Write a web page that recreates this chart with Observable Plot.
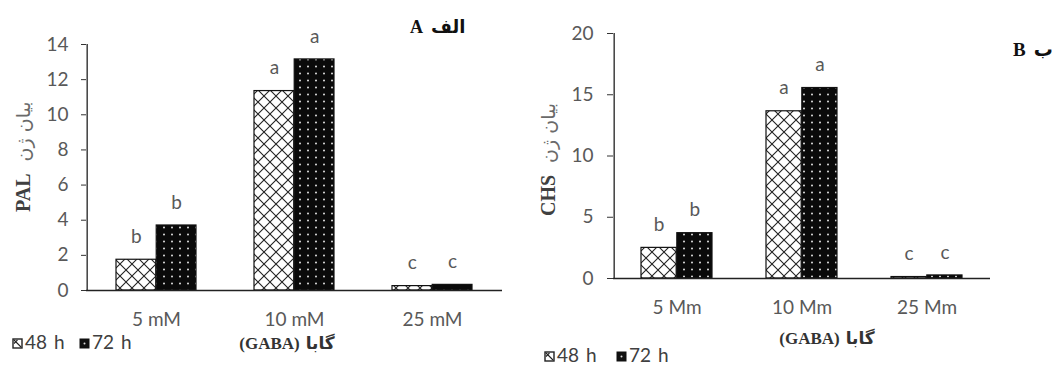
<!DOCTYPE html>
<html><head><meta charset="utf-8">
<script src="https://cdn.jsdelivr.net/npm/d3@7"></script>
<script src="https://cdn.jsdelivr.net/npm/@observablehq/plot@0.6"></script>
<style>
body{margin:0;background:#fff}
#wrap{position:relative;width:1054px;height:367px;overflow:hidden;background:#fff}
#wrap svg{position:absolute;top:0}
g[aria-label="y-axis tick label"] text, g[aria-label="x-axis tick label"] text {fill:#595959}
</style></head><body><div id="wrap"></div><script>
// ---- data ----
const categoriesA = ["5 mM", "10 mM", "25 mM"];
const values48A = [1.75, 11.35, 0.25];
const values72A = [3.7, 13.15, 0.32];
const letters48A = ["b", "a", "c"];
const letters72A = ["b", "a", "c"];
const yTicksA = [0, 2, 4, 6, 8, 10, 12, 14];

const categoriesB = ["5 Mm", "10 Mm", "25 Mm"];
const values48B = [2.5, 13.65, 0.12];
const values72B = [3.7, 15.55, 0.25];
const letters48B = ["b", "a", "c"];
const letters72B = ["b", "a", "c"];
const yTicksB = [0, 5, 10, 15, 20];

const seriesNames = ["48 h", "72 h"];

const wrap = document.getElementById("wrap");

function panel(o) {
  const d48 = o.cats.map((c, i) => ({c, v: o.v48[i], l: o.l48[i]}));
  const d72 = o.cats.map((c, i) => ({c, v: o.v72[i], l: o.l72[i]}));
  const step = (o.width - o.ml - o.mr) / o.cats.length;
  const bw = step * (1 - o.pi);
  const svg = Plot.plot({
    width: o.width, height: 367,
    marginLeft: o.ml, marginRight: o.mr, marginTop: o.mt, marginBottom: o.mb,
    style: {fontFamily: "Lato, 'Open Sans', sans-serif", fontSize: "19px", background: "transparent", overflow: "visible"},
    x: {domain: o.cats, paddingInner: o.pi, paddingOuter: o.pi / 2, label: null},
    y: {domain: [0, o.yTicks[o.yTicks.length - 1]], label: null},
    marks: [
      Plot.axisY({ticks: o.yTicks, tickSize: o.tickSize, tickPadding: o.tickPadding, fontSize: 19, label: null, stroke: "#333"}),
      Plot.axisX({tickSize: 0, tickPadding: o.xPad, fontSize: 19, label: null}),
      Plot.barY(d48, {x: "c", y: "v", fill: `url(#hatch${o.id})`, stroke: "#111", strokeWidth: 1.2, insetRight: bw / 2}),
      Plot.barY(d72, {x: "c", y: "v", fill: `url(#dots${o.id})`, stroke: "#111", strokeWidth: 1.2, insetLeft: bw / 2}),
      Plot.ruleY([0], {stroke: "#222", strokeWidth: 1.3}),
      Plot.ruleX([o.cats[0]], {x: d => d, dx: -step / 2, y1: 0, y2: o.yTicks[o.yTicks.length - 1], stroke: "#222", strokeWidth: 1.3}),
      Plot.text(d48, {x: "c", y: "v", text: "l", dx: -bw / 4, dy: -23, fill: "#595959", fontSize: 19}),
      Plot.text(d72, {x: "c", y: "v", text: "l", dx: bw / 4, dy: -23, fill: "#595959", fontSize: 19})
    ]
  });
  svg.style.left = o.left + "px";
  const defs = d3.select(svg).insert("defs", ":first-child");
  const h = defs.append("pattern").attr("id", "hatch" + o.id).attr("patternUnits", "userSpaceOnUse")
    .attr("width", o.hatch).attr("height", o.hatch);
  h.append("rect").attr("width", o.hatch).attr("height", o.hatch).attr("fill", "white");
  h.append("path").attr("d", `M0,0L${o.hatch},${o.hatch}M${o.hatch},0L0,${o.hatch}`).attr("stroke", "#222").attr("stroke-width", 1.1);
  const p = defs.append("pattern").attr("id", "dots" + o.id).attr("patternUnits", "userSpaceOnUse")
    .attr("width", 8).attr("height", 7);
  p.append("rect").attr("width", 8).attr("height", 7).attr("fill", "#0a0a0a");
  p.append("circle").attr("cx", 4).attr("cy", 3.5).attr("r", 0.95).attr("fill", "#e8e8e8");
  wrap.appendChild(svg);
}

panel({id: "A", cats: categoriesA, v48: values48A, v72: values72A, l48: letters48A, l72: letters72A, yTicks: yTicksA,
  left: 0, width: 520, ml: 86, mr: 18, mt: 44, mb: 77, pi: 0.42, tickSize: 5, tickPadding: 13, xPad: 22, hatch: 12});
panel({id: "B", cats: categoriesB, v48: values48B, v72: values72B, l48: letters48B, l72: letters72B, yTicks: yTicksB,
  left: 520, width: 534, ml: 93, mr: 64, mt: 33, mb: 89, pi: 0.43, tickSize: 6, tickPadding: 14, xPad: 22, hatch: 12});

// ---- overlay text: titles, axis titles, legends ----
const ov = d3.select(wrap).append("svg").attr("width", 1054).attr("height", 367).style("left", "0px");
const serif = "'Liberation Serif', 'DejaVu Serif', serif";
const fa = "'DejaVu Sans', 'Noto Sans', sans-serif";

function yTitle(x, yBottom, latin, persian) {
  const g = ov.append("g").attr("transform", `translate(${x},${yBottom}) rotate(-90)`);
  const t = g.append("text").attr("font-family", serif).attr("font-weight", "bold").attr("font-size", 20)
    .attr("fill", "#404040").text(latin);
  const w = t.node().getComputedTextLength();
  g.append("text").attr("x", w + 12).attr("font-family", fa).attr("font-size", 19).attr("fill", "#6a6a6a").text(persian);
}
yTitle(30, 212, "PAL", "بیان ژن");
yTitle(555, 216, "CHS", "بیان ژن");

function title(x, y, latin, persian, size) {
  const t = ov.append("text").attr("x", x).attr("y", y).attr("font-family", serif).attr("font-weight", "bold")
    .attr("font-size", size).attr("fill", "#111").text(latin);
  const w = t.node().getComputedTextLength();
  ov.append("text").attr("x", x + w + 8).attr("y", y).attr("font-family", fa).attr("font-weight", "bold")
    .attr("font-size", size).attr("fill", "#111").text(persian);
}
title(410, 33, "A", "الف", 18);
title(1013, 56, "B", "ب", 19);

function xTitle(cx, y) {
  const g = ov.append("g");
  const t = g.append("text").attr("y", y).attr("font-family", serif).attr("font-weight", "bold").attr("font-size", 17)
    .attr("fill", "#333").text("(GABA)");
  const w = t.node().getComputedTextLength();
  const t2 = g.append("text").attr("x", w + 6).attr("y", y).attr("font-family", fa).attr("font-weight", "bold")
    .attr("font-size", 17).attr("fill", "#333").text("گابا");
  const w2 = t2.node().getComputedTextLength();
  g.attr("transform", `translate(${cx - (w + 6 + w2) / 2},0)`);
}
xTitle(287, 349);
xTitle(827, 344);

function legend(xs, y) {
  const s = 9;
  seriesNames.forEach((name, i) => {
    const cx = xs[i];
    const g = ov.append("g").attr("transform", `translate(${cx},${y - s})`);
    if (i === 0) {
      g.append("rect").attr("width", s).attr("height", s).attr("fill", "white").attr("stroke", "#222").attr("stroke-width", 1.4);
      g.append("path").attr("d", `M1,1L${s - 1},${s - 1}M${s/2},1L1,${s/2}`).attr("stroke", "#222").attr("stroke-width", 1.1);
    } else {
      g.append("rect").attr("width", s).attr("height", s).attr("fill", "#111").attr("stroke", "#111");
      g.append("circle").attr("cx", s / 2).attr("cy", s / 2).attr("r", 1).attr("fill", "#ddd");
    }
    ov.append("text").attr("x", cx + s + 3).attr("y", y + 1).attr("font-family", "Lato, 'Open Sans', sans-serif")
      .attr("font-size", 19).attr("word-spacing", 2).attr("fill", "#404040").text(name);
  });
}
legend([13, 80], 348);
legend([545, 617], 361);
</script></body></html>
